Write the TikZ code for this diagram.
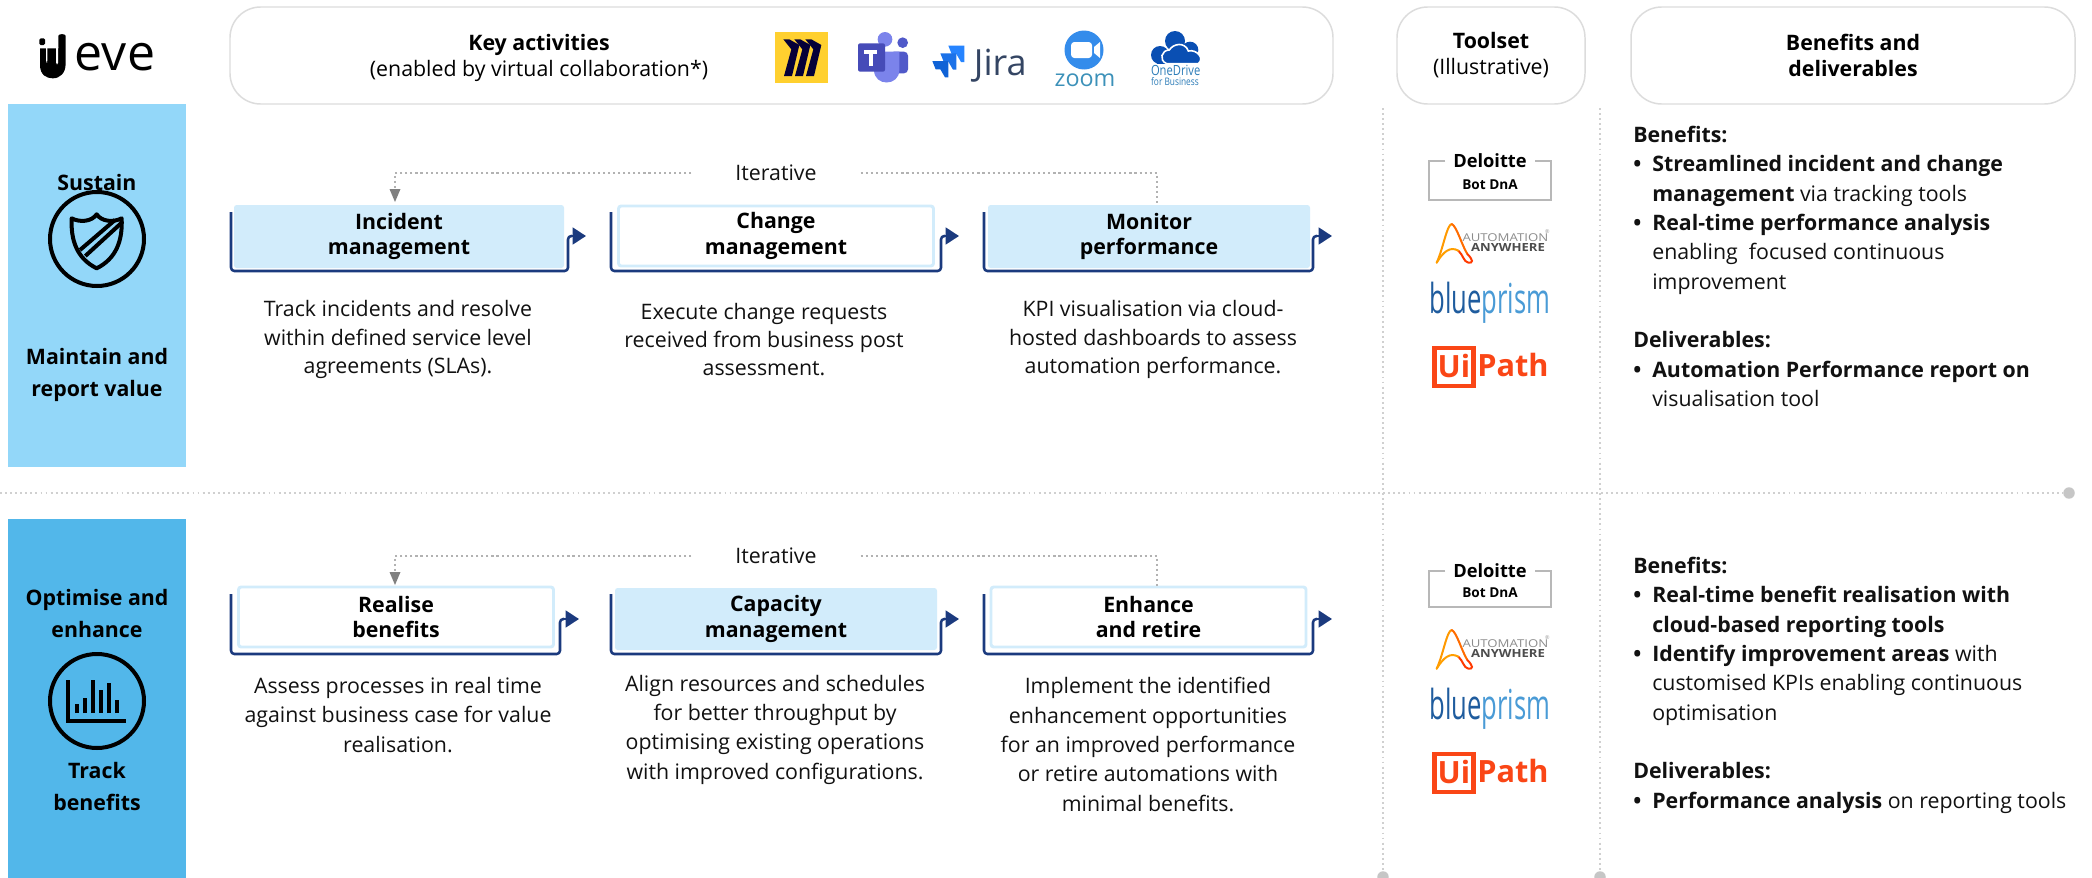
\documentclass[tikz,border=0pt]{standalone}
\usepackage{fontspec}
\usepackage{graphicx}
\setmainfont{Open Sans}
\usetikzlibrary{arrows.meta,calc}
\definecolor{panelA}{HTML}{93D7F9}
\definecolor{panelB}{HTML}{52B7EA}
\definecolor{navy}{HTML}{1B3A7E}
\definecolor{boxblue}{HTML}{D2ECFB}
\definecolor{hdrgrey}{HTML}{DCDCDC}
\definecolor{dotgrey}{HTML}{D0D0D0}
\definecolor{itergrey}{HTML}{B2B2B2}
\definecolor{ink}{HTML}{111111}
\definecolor{uip}{HTML}{FA4616}
\def\px{0.75pt}
\def\sizeM{\fontsize{16pt}{22pt}\selectfont}
\tikzset{
  txt/.style={inner sep=0pt,align=center,text=ink,font=\sizeM},
  bodytxt/.style={txt,font=\sizeM},
  bodytight/.style={txt,font=\fontsize{16pt}{21.2pt}\selectfont},
  sidetxt/.style={inner sep=0pt,align=center,text=black,font=\fontsize{16pt}{24pt}\selectfont\bfseries},
  coltxt/.style={inner sep=0pt,align=left,anchor=north west,text=ink,font=\sizeM},
  hdrbox/.style={draw=hdrgrey,line width=1.1pt,rounded corners=23pt,inner sep=0pt,align=center,text=black,
    font=\fontsize{16pt}{19.5pt}\selectfont},
  procfill/.style={fill=boxblue,rounded corners=2pt,inner sep=0pt,align=center,text=black,
    font=\fontsize{16pt}{19.4pt}\selectfont\bfseries},
  procwhite/.style={procfill,fill=white,draw=boxblue,line width=2.2pt},
  brk/.style={draw=navy,line width=1.9pt,rounded corners=2.5pt,line join=round},
  tipline/.style={draw=navy,line width=1.9pt,-{Triangle[length=10pt,width=12.5pt,fill=navy]}},
  iterline/.style={draw=itergrey,line width=1.6pt,dash pattern=on 1.6pt off 2.2pt},
  iterhead/.style={fill=black!50,draw=none},
  divline/.style={draw=dotgrey,line width=1.4pt,dash pattern=on 1.4pt off 2.4pt},
  enddot/.style={circle,fill=dotgrey!95!black,minimum size=8.6pt,inner sep=0pt},
  iconline/.style={draw=black,line width=3pt},
  toolgrey/.style={draw=black!28,line width=1.2pt},
}
% frame of a process box: left top, bottom, right, arrow height, arrow tip
\newcommand{\procframe}[6]{%
  \draw[brk] (#1,#2) -- (#1,#3) -- (#4,#3) -- (#4,#5) -- ($(#4,#5)+(4,0)$);
  \draw[tipline] ($(#4,#5)+(3,0)$) -- (#6,#5);
}
\newcommand{\bul}{\hbox to 14.25pt{\bfseries\textbullet\hfil}}
\newcommand{\ind}{\hspace*{14.25pt}}
% tool logos of one row: prefix, Deloitte top, bottom, label y, sub-label y, offsets of the logos
\newcommand{\toolrow}[6]{%
  \draw[toolgrey] (1445,#2) -- (1429,#2) -- (1429,#3) -- (1551,#3) -- (1551,#2) -- (1535,#2);
  \node[inner sep=0pt,text=black,font=\fontsize{13.7pt}{16pt}\selectfont\bfseries] (#1del) at (1490,#4) {Deloitte};
  \node[inner sep=0pt,text=black,font=\fontsize{10.2pt}{12pt}\selectfont\bfseries] (#1bot) at (1490,#5) {Bot DnA};
  \begin{scope}[shift={(1380,{120+#6})},scale=1/3]
    \draw[line width=1.5pt,color=orange!80!yellow,line cap=round] (170,428) .. controls (190,385) and (200,315) .. (215,312);
    \draw[line width=1.5pt,color=orange!85!red,line cap=round] (215,312) .. controls (230,318) and (245,375) .. (262,402);
    \draw[line width=1.5pt,color=red!55!orange,line cap=round] (262,402) .. controls (280,420) and (280,430) .. (265,428) .. controls (250,425) and (250,405) .. (235,392);
    \draw[line width=1.5pt,color=orange!75!yellow,line cap=round] (235,392) .. controls (210,378) and (190,395) .. (170,428);
    \node[inner sep=0pt,text=black!45,font=\fontsize{8.1pt}{9pt}\selectfont] (#1aut) at (376,352) {\scalebox{1.22}[1]{AUTOMATION}};
    \node[inner sep=0pt,text=black!70,font=\fontsize{8.4pt}{9pt}\selectfont\bfseries] (#1any) at (384,382) {\scalebox{1.17}[1]{ANYWHERE}};
    \node[inner sep=0pt,text=black!40,font=\fontsize{4pt}{4pt}\selectfont] (#1aur) at (502,336) {®};
  \end{scope}
  \node[inner sep=0pt] (#1bpr) at (1490,{303+#6}) {\fontsize{31pt}{34pt}\selectfont\scalebox{.62}[1]{\textcolor[HTML]{1F5C9E}{blue}\textcolor[HTML]{4A9BD6}{prism}}};
  \draw[uip,line width=3.4pt] (1434.5,{348+#6}) rectangle (1473.5,{386+#6});
  \node[inner sep=0pt,text=uip,font=\fontsize{23pt}{26pt}\selectfont\bfseries] (#1ui) at (1454,{366+#6}) {Ui};
  \node[inner sep=0pt,text=uip,font=\fontsize{23pt}{26pt}\selectfont\bfseries] (#1pth) at (1513,{365+#6}) {Path};
}
\begin{document}
\begin{tikzpicture}[x=0.75pt,y=-0.75pt]
\useasboundingbox (0,0) rectangle (2092,878);
\fill[white] (0,0) rectangle (2092,878);

% dividers
\coordinate (divL) at (0,493);
\node[enddot] (divEnd) at (2069,493) {};
\draw[divline] (divL) -- (divEnd);
\coordinate (vA) at (1383,108);
\coordinate (vB) at (1600,108);
\node[enddot] (vAend) at (1383,877) {};
\node[enddot] (vBend) at (1600,877) {};
\draw[divline] (vA) -- (vAend);
\draw[divline] (vB) -- (vBend);

% eve logo
\begin{scope}[shift={(30,25)},scale=1/3]
  \fill[black,rounded corners=1pt] (28,40) rectangle (45,60);
  \fill[black] (30,70) -- (30,120) .. controls (30,150) and (50,160) .. (68,160) .. controls (90,160) and (107,145) .. (107,115) -- (107,32) .. controls (107,26) and (85,26) .. (85,32) -- (85,70) -- cycle;
  \fill[white,rounded corners=1pt] (48,66) rectangle (52,112);
  \fill[white,rounded corners=1pt] (78,62) rectangle (84,118);
\end{scope}
\node[inner sep=0pt,text=black,font=\fontsize{37.5pt}{40pt}\selectfont,anchor=base] (eve) at (115,70) {eve};

% top headers
\node[hdrbox,minimum width=1103*\px,minimum height=97*\px] (kact) at (781.5,55.5) {};
\node[inner sep=0pt,align=center,text=black,font=\fontsize{16pt}{19.5pt}\selectfont] (ktxt) at (539,58) {\textbf{Key activities}\\(enabled by virtual collaboration*)};
\node[hdrbox,minimum width=188*\px,minimum height=97*\px] (tool) at (1491,55.5) {\textbf{Toolset}\\(Illustrative)};
\node[hdrbox,minimum width=444*\px,minimum height=97*\px] (bene) at (1853,55.5) {\textbf{Benefits and}\\\textbf{deliverables}};

% miro
\begin{scope}[shift={(770,20)},scale=1/3]
  \fill[color={rgb,255:red,255;green,208;blue,47}] (15,36) rectangle (174,189);
  \foreach \d in {0,33,66}{
    \fill[color={rgb,255:red,5;green,0;blue,56}] ($(40,58)+(\d,0)$) -- ($(58,58)+(\d,0)$) -- ($(88,75)+(\d,0)$) -- ($(66,168)+(\d,0)$) -- ($(42,168)+(\d,0)$) -- ($(64,88)+(\d,0)$) -- cycle;
  }
\end{scope}
% teams
\begin{scope}[shift={(770,20)},scale=1/3]
  \fill[color={rgb,255:red,80;green,89;blue,201}] (398,68) circle (16);
  \fill[color={rgb,255:red,80;green,89;blue,201},rounded corners=3pt] (360,95) rectangle (414,160);
  \fill[color={rgb,255:red,123;green,131;blue,235}] (345,58) circle (22);
  \fill[color={rgb,255:red,123;green,131;blue,235}] (312,95) -- (388,95) -- (388,150) .. controls (388,200) and (312,200) .. (312,150) -- cycle;
  \fill[color={rgb,255:red,70;green,75;blue,184},rounded corners=1.5pt] (264,70) rectangle (345,155);
  \fill[white] (283,90) rectangle (322,102);
  \fill[white] (297,90) rectangle (309,138);
\end{scope}
% jira
\begin{scope}[shift={(770,20)},scale=1/3]
  \foreach \dx/\dy/\colr in {48/-46/2684FF,24/-23/1C72E8,0/0/0F62D6}{
    \definecolor{jr}{HTML}{\colr}
    \fill[jr] ($(487,123)+(\dx,\dy)$) -- ($(535,123)+(\dx,\dy)$) -- ($(535,172)+(\dx,\dy)$) -- ($(525,172)+(\dx,\dy)$) -- ($(511,148)+(\dx,\dy)$) -- ($(497,148)+(\dx,\dy)$) -- cycle;
  }
  \node[inner sep=0pt,anchor=base,text={rgb,255:red,52;green,69;blue,99},font=\fontsize{27pt}{30pt}\selectfont] (jira) at (691,165) {Jira};
\end{scope}
% zoom
\fill[color={rgb,255:red,52;green,140;blue,235}] (1084,50) circle (19.5);
\fill[white,rounded corners=2.5pt] (1071,42) rectangle (1092,58);
\fill[white] (1094,47) -- (1100,42) -- (1100,58) -- (1094,53) -- cycle;
\node[inner sep=0pt,anchor=base,text={rgb,255:red,60;green,145;blue,185},font=\fontsize{17.5pt}{18pt}\selectfont] (zoomt) at (1085,86) {zoom};
% onedrive
\begin{scope}[shift={(1050,25)},scale=1/3]
  \fill[color={rgb,255:red,10;green,79;blue,179}] (330,90) circle (27) (375,48) circle (30) (420,75) circle (25);
  \fill[color={rgb,255:red,10;green,79;blue,179}] (320,95) rectangle (440,116);
  \filldraw[draw=white,line width=1.2pt,fill={rgb,255:red,10;green,79;blue,179}] (350,116) .. controls (325,105) and (335,75) .. (358,75) .. controls (370,55) and (405,50) .. (415,78) .. controls (440,72) and (465,100) .. (445,116) -- cycle;
  \node[inner sep=0pt,text={rgb,255:red,44;green,124;blue,184},font=\fontsize{10.5pt}{12pt}\selectfont] (ond) at (377,136) {\scalebox{.8}[1]{OneDrive}};
  \node[inner sep=0pt,text={rgb,255:red,44;green,124;blue,184},font=\fontsize{7.8pt}{9pt}\selectfont] (onb) at (375,170) {\scalebox{.8}[1]{for Business}};
\end{scope}

% side panels
\fill[panelA] (8,104) rectangle (186,467);
\fill[panelB] (8,519) rectangle (186,878);
\node[sidetxt] (sus) at (97,182) {Sustain};
\node[sidetxt] (mrv) at (97,375) {Maintain and\\report value};
\node[sidetxt] (opt) at (97,613) {Optimise and\\enhance};
\node[sidetxt] (trk) at (97,786.5) {Track\\benefits};
% shield icon
\draw[iconline] (97,239) circle (47);
\begin{scope}[shift={(20,170)},scale=1/3]
  \draw[iconline,line join=round] (155,145) .. controls (180,158) and (215,155) .. (230,133) .. controls (245,155) and (280,158) .. (305,145) .. controls (308,210) and (290,265) .. (230,295) .. controls (170,265) and (152,210) .. (155,145) -- cycle;
  \draw[iconline] (180,240) -- (285,150);
  \draw[iconline] (196,258) -- (303,160);
\end{scope}
% chart icon
\draw[iconline] (97,701) circle (47);
\draw[black,line width=3pt] (68,680) -- (68,721) -- (126,721);
\foreach \bx/\by in {77/704,85/698,93/680,101/690,109/683,117/700}{
  \draw[black,line width=2.8pt] (\bx,713) -- (\bx,\by);
}

% row 1
\procframe{231}{212}{271}{568}{236}{586}
\node[procfill,minimum width=330*\px,minimum height=63*\px] (inc) at (399,236.5) {Incident\\management};
\procframe{611}{212}{271}{941}{236}{959}
\node[procwhite,minimum width=315*\px,minimum height=60*\px] (chg) at (776,236) {Change\\management};
\procframe{984}{212}{271}{1313}{236}{1332}
\node[procfill,minimum width=322*\px,minimum height=63*\px] (mon) at (1149,236.5) {Monitor\\performance};
\node[txt] (it1) at (776,173) {Iterative};
\coordinate (inctop) at (395,202);
\coordinate (montop) at (1157,205);
\draw[iterline] ([xshift=-33pt]it1.west) -| ($(inctop)+(0,-10)$);
\fill[iterhead] (inctop) -- ($(inctop)+(-5.5,-13)$) -- ($(inctop)+(5.5,-13)$) -- cycle;
\draw[iterline] ([xshift=33pt]it1.east) -| (montop);
\node[bodytight] (d1) at (398,339.5) {Track incidents and resolve\\within defined service level\\agreements (SLAs).};
\node[bodytight] (d2) at (764,339.5) {Execute change requests\\received from business post\\assessment.};
\node[bodytight] (d3) at (1153,339.5) {KPI visualisation via cloud-\\hosted dashboards to assess\\automation performance.};

% row 2
\procframe{231}{594}{654}{560}{619}{579}
\node[procwhite,minimum width=315*\px,minimum height=60*\px] (rea) at (396,617) {Realise\\benefits};
\procframe{611}{594}{654}{941}{619}{959}
\node[procfill,minimum width=322*\px,minimum height=62*\px] (cap) at (776,619) {Capacity\\management};
\procframe{984}{594}{654}{1313}{619}{1332}
\node[procwhite,minimum width=315*\px,minimum height=60*\px] (enh) at (1148.5,617) {Enhance\\and retire};
\node[txt] (it2) at (776,556) {Iterative};
\coordinate (reatop) at (395,585);
\coordinate (enhtop) at (1157,588);
\draw[iterline] ([xshift=-33pt]it2.west) -| ($(reatop)+(0,-10)$);
\fill[iterhead] (reatop) -- ($(reatop)+(-5.5,-13)$) -- ($(reatop)+(5.5,-13)$) -- cycle;
\draw[iterline] ([xshift=33pt]it2.east) -| (enhtop);
\node[bodytxt] (d4) at (398,715) {Assess processes in real time\\against business case for value\\realisation.};
\node[bodytxt] (d5) at (775,729.5) {Align resources and schedules\\for better throughput by\\optimising existing operations\\with improved configurations.};
\node[bodytxt] (d6) at (1148,744.5) {Implement the identified\\enhancement opportunities\\for an improved performance\\or retire automations with\\minimal benefits.};

% toolsets
\toolrow{a}{161}{200}{161}{185}{0}
\toolrow{b}{571}{607}{571}{593}{406}

% right column
\node[coltxt] (ben1) at (1633,126) {\textbf{Benefits:}\\
\bul\textbf{Streamlined incident and change}\\
\ind\textbf{management} via tracking tools\\
\bul\textbf{Real-time performance analysis}\\
\ind enabling\ \ focused continuous\\
\ind improvement\\
\mbox{}\\
\textbf{Deliverables:}\\
\bul\textbf{Automation Performance report on}\\
\ind visualisation tool};
\node[coltxt] (ben2) at (1633,557) {\textbf{Benefits:}\\
\bul\textbf{Real-time benefit realisation with}\\
\ind\textbf{cloud-based reporting tools}\\
\bul\textbf{Identify improvement areas} with\\
\ind customised KPIs enabling continuous\\
\ind optimisation\\
\mbox{}\\
\textbf{Deliverables:}\\
\bul\textbf{Performance analysis} on reporting tools};
\end{tikzpicture}
\end{document}
